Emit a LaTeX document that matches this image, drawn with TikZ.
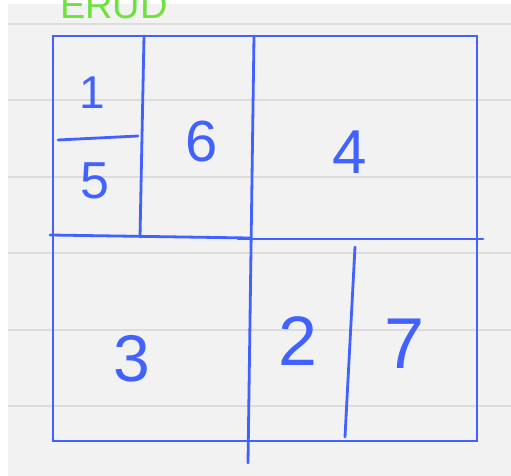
\documentclass[tikz,border=0pt]{standalone}
\usepackage{fontspec}
\setmainfont{Liberation Sans}
\definecolor{pen}{RGB}{66,98,255}
\definecolor{paper}{RGB}{242,242,242}
\definecolor{ruling}{RGB}{220,220,220}
\definecolor{marker}{RGB}{110,225,60}
\begin{document}
\begin{tikzpicture}[x=1pt,y=-1pt,
  penline/.style={draw=pen,line width=2.8pt,line cap=round},
  digit/.style={text=pen,inner sep=0pt,anchor=center}]
\useasboundingbox (0,0) rectangle (511,476);
\clip (0,0) rectangle (511,476);
\fill[white] (0,0) rectangle (511,476);
\fill[paper] (8,4) rectangle (511,476);
\foreach \y in {24,100,177,253,330,406}
  \draw[ruling,line width=1.5pt] (8,\y) -- (511,\y);
% green heading, cut off at the top as in the reference
\node[text=marker,anchor=base west,inner sep=0pt,font=\fontsize{38}{38}\selectfont] (head) at (60,19) {ERUD};
% outer frame
\coordinate (tl) at (53,36);
\coordinate (br) at (477,441);
\draw[penline] (tl) rectangle (br);
% dividers
\coordinate (v1a) at (144,36);   \coordinate (v1b) at (140,237);
\coordinate (v2a) at (254,36);   \coordinate (v2b) at (248,463);
\coordinate (h1a) at (50,235);   \coordinate (h1b) at (250,238);
\coordinate (h2a) at (238,239);  \coordinate (h2b) at (483,239);
\coordinate (fa) at (58,140);    \coordinate (fb) at (138,136);
\coordinate (v3a) at (355,247);  \coordinate (v3b) at (345,437);
\draw[penline] (v1a) -- (v1b);
\draw[penline] (v2a) -- (v2b);
\draw[penline] (h1a) -- (h1b);
\draw[penline] (h2a) -- (h2b);
\draw[penline] (fa) -- (fb);
\draw[penline] (v3a) -- (v3b);
% numbers
\node[digit,font=\fontsize{46}{46}\selectfont] (n1) at (92,93) {1};
\node[digit,font=\fontsize{52}{52}\selectfont] (n5) at (95,181) {5};
\node[digit,font=\fontsize{58}{58}\selectfont] (n6) at (202,142) {6};
\node[digit,font=\fontsize{62}{62}\selectfont] (n4) at (350,152) {4};
\node[digit,font=\fontsize{66}{66}\selectfont] (n3) at (132,359) {3};
\node[digit,font=\fontsize{70}{70}\selectfont] (n2) at (298,341) {2};
\node[digit,font=\fontsize{72}{72}\selectfont] (n7) at (405,344) {7};
\end{tikzpicture}
\end{document}
